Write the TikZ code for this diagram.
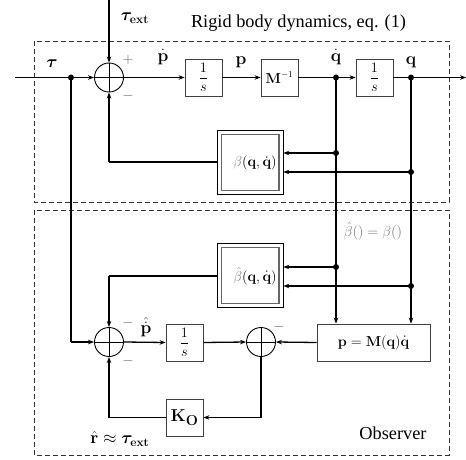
\documentclass[tikz,border=0pt]{standalone}
\usepackage{amsmath,bm}
\usepackage[no-math]{fontspec}
\newfontfamily\tnr{Liberation Serif}
\usetikzlibrary{arrows.meta,calc}
\newcommand{\intg}{$\genfrac{}{}{1.1pt}{0}{1}{s}$}
\begin{document}
\begin{tikzpicture}[x=1pt,y=-1pt,
  blk/.style={draw=black!75,line width=0.8pt,minimum width=37pt,minimum height=37pt,inner sep=0pt,font=\fontsize{13.5}{15}\selectfont},
  dblk/.style={draw=black,line width=0.6pt,minimum width=66pt,minimum height=64pt,inner sep=0pt,font=\fontsize{13.5}{15}\selectfont},
  inr/.style={draw=black!60,line width=1.4pt},
  sumc/.style={circle,draw=black,line width=0.9pt,minimum size=29pt,inner sep=0pt},
  dot/.style={circle,fill=black,minimum size=6pt,inner sep=0pt},
  frame/.style={draw=black!80,line width=0.8pt,dash pattern=on 5pt off 3pt},
  con/.style={line width=1.3pt},
  arr/.style={line width=1.3pt,-{Stealth[length=6pt,width=4.5pt]}},
  lab/.style={font=\fontsize{16.5}{20}\selectfont,inner sep=0pt},
  txt/.style={font=\tnr\fontsize{18.3}{21}\selectfont,inner sep=0pt},
  sgn/.style={font=\fontsize{14}{16}\selectfont,text=black!60,inner sep=0pt}
]
\useasboundingbox (0,0) rectangle (466,460);
% frames
\draw[frame] (34,41) rectangle (449,202);
\draw[frame] (34,210) rectangle (449,455);
% blocks
\node[sumc] (s1) at (109,77.5) {};
\node[sumc] (s2) at (109,342) {};
\node[sumc] (s3) at (261,342) {};
\foreach \s in {s1,s2,s3}{
  \draw[line width=0.9pt] ($(\s.center)+(-14.5,0)$) -- ($(\s.center)+(14.5,0)$);
  \draw[line width=0.9pt] ($(\s.center)+(0,-14.5)$) -- ($(\s.center)+(0,14.5)$);
}
\node[blk] (i1) at (203.5,77.5) {\intg};
\node[blk] (mi) at (279.5,77.5) {$\mathbf{M}^{-1}$};
\node[blk] (i2) at (374.5,77.5) {\intg};
\node[dblk] (be) at (250,162.5) {};
\draw[inr] ($(be.north west)+(4.5,4.5)$) rectangle ($(be.south east)+(-4.5,-4.5)$);
\node[inner sep=0pt,font=\fontsize{13.5}{15}\selectfont] (bet) at (255,163) {$\textcolor{black!55}{\beta}(\mathbf{q},\dot{\mathbf{q}})$};
\node[dblk] (bh) at (250,275.5) {};
\draw[inr] ($(bh.north west)+(4.5,4.5)$) rectangle ($(bh.south east)+(-4.5,-4.5)$);
\node[inner sep=0pt,font=\fontsize{13.5}{15}\selectfont] (bht) at (255,276) {$\textcolor{black!55}{\hat\beta}(\mathbf{q},\dot{\mathbf{q}})$};
\node[blk] (i3) at (184.5,342.5) {\intg};
\node[blk,minimum width=113pt,font=\fontsize{14}{16}\selectfont] (mq) at (373.5,342.5) {$\mathbf{p}=\mathbf{M}(\mathbf{q})\dot{\mathbf{q}}$};
\node[blk,font=\fontsize{19}{22}\selectfont] (ko) at (184.5,417.5) {$\mathbf{K_O}$};
% dots and points
\node[dot] (d1) at (71,77.5) {};
\node[dot] (d2) at (336,77.5) {};
\node[dot] (d3) at (411,77.5) {};
\node[dot] (d4) at (336,153) {};
\node[dot] (d5) at (411,172) {};
\node[dot] (d6) at (336,267) {};
\node[dot] (d7) at (411,286) {};
\coordinate (in) at (15,77.5);
\coordinate (out) at (466,77.5);
\coordinate (ext) at (109,0);
\coordinate (b1) at (109,162);
\coordinate (b2) at (109,276);
\coordinate (tdn) at (71,342);
\coordinate (kr) at (261,417.5);
\coordinate (kl) at (109,417.5);
% connectors
\draw[con] (in) -- (d1.center);
\draw[arr] (d1.center) -- (s1.west);
\draw[arr] (ext) -- (s1.north);
\draw[arr] (s1.east) -- (i1.west);
\draw[arr] (i1.east) -- (mi.west);
\draw[con] (mi.east) -- (d2.center);
\draw[arr] (d2.center) -- (i2.west);
\draw[con] (i2.east) -- (d3.center);
\draw[arr] (d3.center) -- (out);
\draw[con] (d2.center) -- (d4.center) -- (d6.center);
\draw[arr] (d6.center) -- (d6.center |- mq.north);
\draw[con] (d3.center) -- (d5.center) -- (d7.center);
\draw[arr] (d7.center) -- (d7.center |- mq.north);
\draw[arr] (d4.center) -- (be.east |- d4.center);
\draw[arr] (d5.center) -- (be.east |- d5.center);
\draw[con] (be.west |- b1) -- (b1);
\draw[arr] (b1) -- (s1.south);
\draw[arr] (d6.center) -- (bh.east |- d6.center);
\draw[arr] (d7.center) -- (bh.east |- d7.center);
\draw[con] (bh.west |- b2) -- (b2);
\draw[arr] (b2) -- (s2.north);
\draw[con] (d1.center) -- (tdn);
\draw[arr] (tdn) -- (s2.west);
\draw[arr] (s2.east) -- (i3.west);
\draw[arr] (i3.east) -- (s3.west);
\draw[arr] (mq.west) -- (s3.east);
\draw[con] (s3.south) -- (kr);
\draw[arr] (kr) -- (ko.east);
\draw[con] (ko.west) -- (kl);
\draw[arr] (kl) -- (s2.south);
% labels
\node[lab] (ltau) at (52,64) {$\bm{\tau}$};
\node[lab] (lext) at (135,18) {$\bm{\tau}_{\mathbf{ext}}$};
\node[sgn] (p1) at (128,60) {$+$};
\node[sgn] (m1) at (128,96) {$-$};
\node[lab] (lpd) at (163,57) {$\dot{\mathbf{p}}$};
\node[lab] (lp) at (241,62) {$\mathbf{p}$};
\node[lab] (lqd) at (336,57) {$\dot{\mathbf{q}}$};
\node[lab] (lq) at (411,62) {$\mathbf{q}$};
\node[txt] (title) at (298.5,23) {Rigid body dynamics, eq. (1)};
\node[lab,font=\fontsize{14.5}{16}\selectfont,text=black!55] (eqb) at (373,231) {$\hat\beta()=\beta()$};
\node[sgn] (m2) at (128,323) {$-$};
\node[sgn] (m3) at (128,361) {$-$};
\node[lab] (lph) at (146,327) {$\hat{\dot{\mathbf{p}}}$};
\node[sgn] (m4) at (279,327) {$-$};
\node[lab] (lr) at (120,439) {$\hat{\mathbf{r}}\approx\bm{\tau}_{\mathbf{ext}}$};
\node[txt] (obs) at (393,433) {Observer};
\end{tikzpicture}
\end{document}
